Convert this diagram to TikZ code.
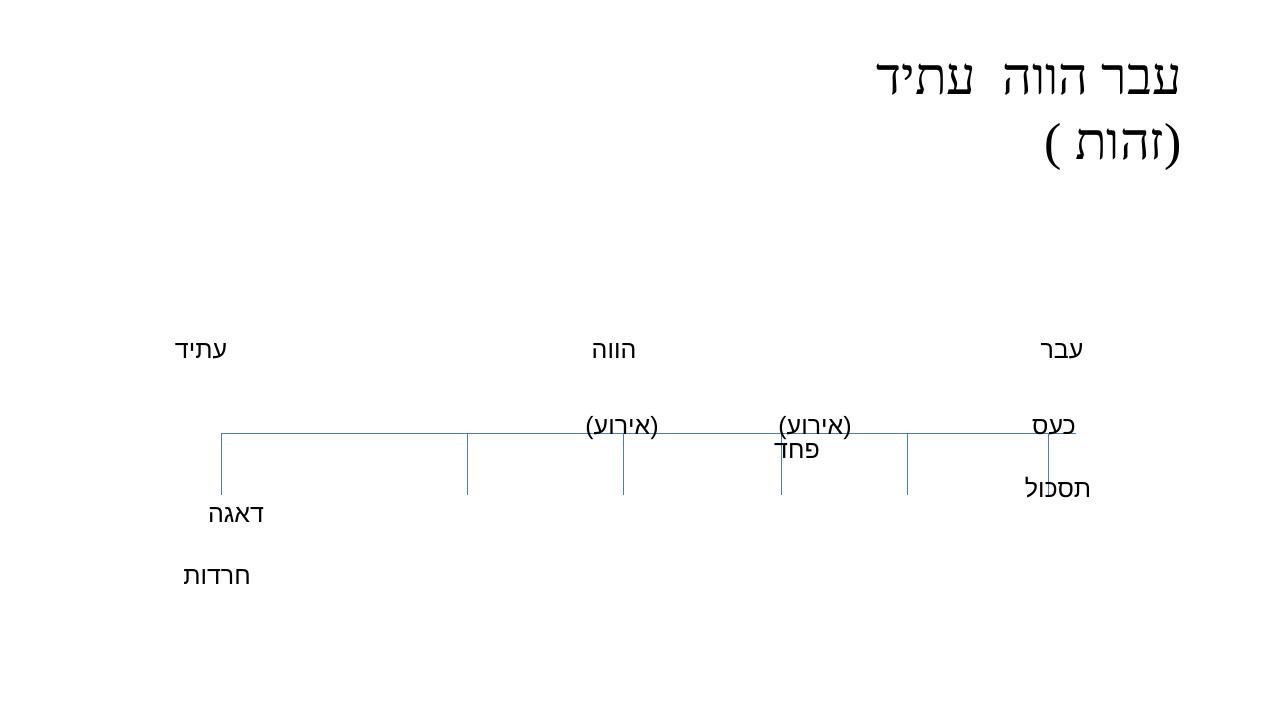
\documentclass[tikz,border=0pt]{standalone}
\usepackage{fontspec}
\TeXXeTstate=1
\newfontfamily\hebserif[Script=Hebrew]{Liberation Serif}
\newfontfamily\hebsans[Script=Hebrew]{Liberation Sans}
\newfontfamily\latserif{Liberation Serif}
\newfontfamily\latsans{Liberation Sans}
\definecolor{lineblue}{HTML}{4A7EBB}
\begin{document}
\begin{tikzpicture}[x=1bp,y=-1bp,
  tl/.style={draw=lineblue,line width=1.2bp},
  lab/.style={font=\hebsans\fontsize{25bp}{29bp}\selectfont,inner sep=0pt,anchor=base},
  ttl/.style={font=\hebserif\fontsize{52bp}{58bp}\selectfont,inner sep=0pt,anchor=base east}]
\useasboundingbox (0,0) rectangle (1280,720);
\fill[white] (0,0) rectangle (1280,720);
% timeline
\coordinate (L) at (221,433.5);
\coordinate (R) at (1076,433.5);
\coordinate (topa) at (221.5,433.5); \coordinate (bota) at (221.5,495);
\coordinate (topb) at (467.5,433.5); \coordinate (botb) at (467.5,495);
\coordinate (topc) at (623.5,433.5); \coordinate (botc) at (623.5,495);
\coordinate (topd) at (781.5,433.5); \coordinate (botd) at (781.5,495);
\coordinate (tope) at (907.5,433.5); \coordinate (bote) at (907.5,495);
\coordinate (topf) at (1048.5,433.5); \coordinate (botf) at (1048.5,495);
\draw[tl] (L) -- (R);
\draw[tl] (topa) -- (bota);
\draw[tl] (topb) -- (botb);
\draw[tl] (topc) -- (botc);
\draw[tl] (topd) -- (botd);
\draw[tl] (tope) -- (bote);
\draw[tl] (topf) -- (botf);
% title
\node[ttl] (t1) at (1182,95) {\beginR עבר הווה\ \ עתיד\endR};
\node[ttl] (t2) at (1182,160) {{\latserif(}\ \beginR זהות\endR{\latserif)}};
% labels
\node[lab] (past) at (1062,358) {\beginR עבר\endR};
\node[lab] (pres) at (614,358) {\beginR הווה\endR};
\node[lab] (fut) at (201,358) {\beginR עתיד\endR};
\node[lab] (ev1) at (622,434) {{\latsans(}\beginR אירוע\endR{\latsans)}};
\node[lab] (ev2) at (815,434) {{\latsans(}\beginR אירוע\endR{\latsans)}};
\node[lab] (anger) at (1054,434) {\beginR כעס\endR};
\node[lab] (fear) at (797,458) {\beginR פחד\endR};
\node[lab] (frus) at (1058,497) {\beginR תסכול\endR};
\node[lab] (worry) at (236,522) {\beginR דאגה\endR};
\node[lab] (anx) at (217,584) {\beginR חרדות\endR};
\end{tikzpicture}
\end{document}
